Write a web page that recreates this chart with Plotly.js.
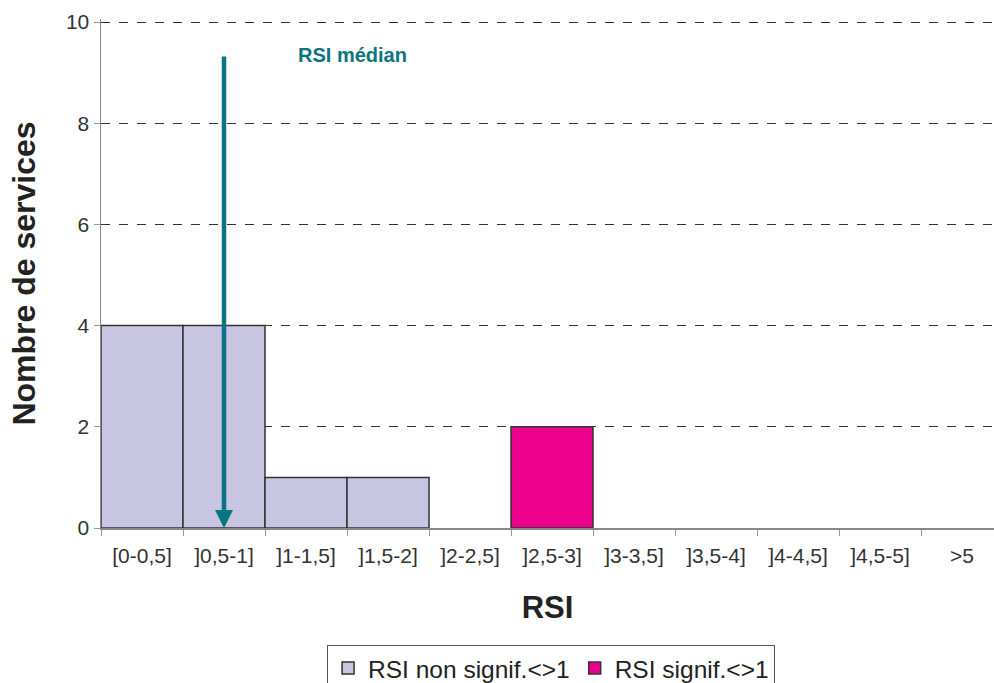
<!DOCTYPE html>
<html>
<head>
<meta charset="utf-8">
<script src="https://cdn.plot.ly/plotly-3.0.1.min.js"></script>
<style>html,body{margin:0;padding:0;background:#fff;}#chart{width:994px;height:683px;}</style>
</head>
<body>
<div id="chart"></div>
<script>
const categories = ["[0-0,5]", "]0,5-1]", "]1-1,5]", "]1,5-2]", "]2-2,5]", "]2,5-3]", "]3-3,5]", "]3,5-4]", "]4-4,5]", "]4,5-5]", ">5"];
const nonSignif = [4, 4, 1, 1, null, null, null, null, null, null, null];
const signif = [null, null, null, null, null, 2, null, null, null, null, null];
const seriesNames = ["RSI non signif.<>1", "RSI signif.<>1"];
const medianCategory = "]0,5-1]";
const medianLabel = "RSI médian";

const font = "Liberation Sans, Arial, sans-serif";
const traces = [
  {type: "bar", x: categories, y: nonSignif, name: seriesNames[0],
   marker: {color: "#c7c5e2", line: {color: "#333333", width: 1.5}}},
  {type: "bar", x: categories, y: signif, name: seriesNames[1],
   marker: {color: "#ec008c", line: {color: "#333333", width: 1.5}}}
];
const layout = {
  width: 994, height: 683,
  margin: {l: 101, r: 0, t: 19, b: 155, autoexpand: false},
  paper_bgcolor: "#fff", plot_bgcolor: "#fff",
  barmode: "overlay", bargap: 0,
  font: {family: font, color: "#333", size: 21},
  showlegend: true,
  legend: {orientation: "h", x: 0.504, xanchor: "center", y: -0.229, yanchor: "top",
    bordercolor: "#555", borderwidth: 1, font: {size: 24.5, color: "#222"},
    itemwidth: 30, tracegroupgap: 0},
  xaxis: {type: "category", range: [-0.5, 10.39], tickson: "boundaries",
    ticks: "outside", ticklen: 6, tickcolor: "#999", showline: true, linecolor: "#888", linewidth: 1.5,
    showgrid: false, zeroline: false, tickfont: {size: 21, color: "#333"}, ticklabelstandoff: 8,
    title: {text: "RSI", font: {size: 31, color: "#222", family: font, weight: "bold"}, standoff: 30},
    fixedrange: true},
  yaxis: {range: [0, 10.06], tickvals: [0, 2, 4, 6, 8, 10], ticks: "outside", ticklen: 6, tickcolor: "#999",
    showline: true, linecolor: "#888", linewidth: 1.5,
    showgrid: true, gridcolor: "#333", griddash: "dash", gridwidth: 1, zeroline: false,
    tickfont: {size: 21, color: "#333"},
    title: {text: "Nombre de services", font: {size: 32, color: "#222", family: font, weight: "bold"}, standoff: 20}},
  annotations: [
    {x: medianCategory, y: 0, xref: "x", yref: "y", ax: medianCategory, ay: 9.35, axref: "x", ayref: "y",
     showarrow: true, arrowhead: 2, arrowsize: 0.8, arrowwidth: 4.5, arrowcolor: "#0a7480", text: ""},
    {x: 2.57, y: 9.35, xref: "x", yref: "y", text: "<b>" + medianLabel + "</b>", showarrow: false,
     font: {size: 20, color: "#0a7480", family: font}}
  ]
};
Plotly.newPlot("chart", traces, layout, {displayModeBar: false, staticPlot: true});
</script>
</body>
</html>
